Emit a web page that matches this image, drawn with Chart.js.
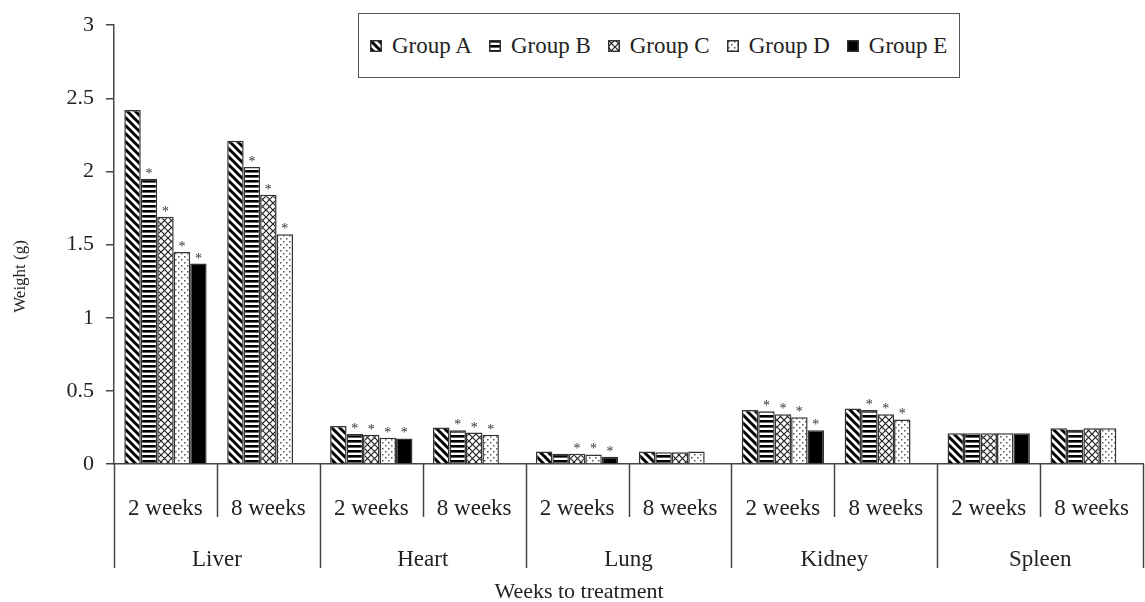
<!DOCTYPE html>
<html>
<head>
<meta charset="utf-8">
<script src="https://cdn.jsdelivr.net/npm/chart.js@4.4.1/dist/chart.umd.min.js"></script>
<style>
  html, body { margin: 0; padding: 0; background: #fff; overflow: hidden; }
  #wrap { position: relative; width: 1152px; height: 602px; }
  #legend {
    position: absolute; left: 358px; top: 13px; height: 63px;
    border: 1.5px solid #555; background: #fff;
    display: flex; align-items: center; padding: 0 12px 0 11px;
    font-family: "Liberation Serif", "Times New Roman", serif; font-size: 23px; color: #222;
  }
  #legend .item { display: flex; align-items: center; margin-right: 17px; }
  #legend .item:last-child { margin-right: 0; }
  #legend canvas { margin-right: 10px; }
</style>
</head>
<body>
<div id="wrap">
  <canvas id="organChart"></canvas>
  <div id="legend"></div>
</div>
<script>
// données
const labels = ["2 weeks", "8 weeks", "2 weeks", "8 weeks", "2 weeks", "8 weeks", "2 weeks", "8 weeks", "2 weeks", "8 weeks"];
const organs = ["Liver", "Heart", "Lung", "Kidney", "Spleen"];
const groupNames = ["Group A", "Group B", "Group C", "Group D", "Group E"];

const groupA = [2.42, 2.21, 0.26, 0.25, 0.085, 0.085, 0.37, 0.38, 0.21, 0.245];
const groupB = [1.95, 2.03, 0.205, 0.23, 0.07, 0.08, 0.36, 0.37, 0.21, 0.235];
const groupC = [1.69, 1.84, 0.20, 0.215, 0.07, 0.08, 0.34, 0.34, 0.21, 0.245];
const groupD = [1.45, 1.57, 0.18, 0.20, 0.065, 0.085, 0.32, 0.305, 0.21, 0.245];
const groupE = [1.37, null, 0.175, null, 0.05, null, 0.23, null, 0.21, null];

// astérisques (différence significative)
const sigA = [0, 0, 0, 0, 0, 0, 0, 0, 0, 0];
const sigB = [1, 1, 1, 1, 0, 0, 1, 1, 0, 0];
const sigC = [1, 1, 1, 1, 1, 0, 1, 1, 0, 0];
const sigD = [1, 1, 1, 1, 1, 0, 1, 1, 0, 0];
const sigE = [1, 0, 1, 0, 1, 0, 1, 0, 0, 0];

const yTicks = [0, 0.5, 1, 1.5, 2, 2.5, 3];

const FONT = '"Liberation Serif", "Times New Roman", serif';
const INK = '#222';
const LINE = '#444';

// motifs de remplissage
function makePattern(kind) {
  const c = document.createElement('canvas');
  const g = c.getContext('2d');
  if (kind === 'diag') {
    c.width = c.height = 8;
    g.fillStyle = '#fff'; g.fillRect(0, 0, 8, 8);
    g.strokeStyle = '#000'; g.lineWidth = 3;
    g.beginPath();
    g.moveTo(-2, -2); g.lineTo(10, 10);
    g.moveTo(-2, 6); g.lineTo(2, 10);
    g.moveTo(6, -2); g.lineTo(10, 2);
    g.stroke();
  } else if (kind === 'horiz') {
    c.width = 4; c.height = 5;
    g.fillStyle = '#fff'; g.fillRect(0, 0, 4, 5);
    g.fillStyle = '#000'; g.fillRect(0, 0, 4, 2.6);
  } else if (kind === 'cross') {
    c.width = c.height = 7;
    g.fillStyle = '#fff'; g.fillRect(0, 0, 7, 7);
    g.strokeStyle = '#222'; g.lineWidth = 1.2;
    g.beginPath();
    g.moveTo(-1, -1); g.lineTo(8, 8);
    g.moveTo(8, -1); g.lineTo(-1, 8);
    g.stroke();
  } else if (kind === 'dots') {
    c.width = c.height = 6;
    g.fillStyle = '#fff'; g.fillRect(0, 0, 6, 6);
    g.fillStyle = '#555';
    g.fillRect(1, 1, 1.5, 1.5);
    g.fillRect(4, 4, 1.5, 1.5);
  } else {
    return '#000';
  }
  return g.createPattern(c, 'repeat');
}

const fills = ['diag', 'horiz', 'cross', 'dots', 'solid'].map(makePattern);
const seriesValues = [groupA, groupB, groupC, groupD, groupE];
const seriesSig = [sigA, sigB, sigC, sigD, sigE];

// légende HTML
const legendBox = document.getElementById('legend');
groupNames.forEach((name, i) => {
  const item = document.createElement('div');
  item.className = 'item';
  const sw = document.createElement('canvas');
  sw.width = 12; sw.height = 12;
  const sg = sw.getContext('2d');
  sg.fillStyle = fills[i]; sg.fillRect(0, 0, 12, 12);
  sg.strokeStyle = '#333'; sg.lineWidth = 1.5; sg.strokeRect(0.75, 0.75, 10.5, 10.5);
  item.appendChild(sw);
  const t = document.createElement('span');
  t.textContent = name;
  item.appendChild(t);
  legendBox.appendChild(item);
});

// séparateurs de l'axe des catégories
const separatorPlugin = {
  id: 'separators',
  afterDraw(chart) {
    const x = chart.scales.x;
    const ctx = chart.ctx;
    ctx.save();
    ctx.strokeStyle = LINE;
    ctx.lineWidth = 1.5;
    for (let i = 0; i <= labels.length; i++) {
      const px = Math.round(x.getPixelForValue(i - 0.5)) + 0.5;
      const len = i % 2 === 0 ? 104 : 53;
      ctx.beginPath();
      ctx.moveTo(px, x.top);
      ctx.lineTo(px, x.top + len);
      ctx.stroke();
    }
    ctx.restore();
  }
};

// astérisques au-dessus des barres
const starPlugin = {
  id: 'stars',
  afterDatasetsDraw(chart) {
    const ctx = chart.ctx;
    ctx.save();
    ctx.fillStyle = '#333';
    ctx.font = '14px ' + FONT;
    ctx.textAlign = 'center';
    ctx.textBaseline = 'alphabetic';
    seriesSig.forEach((sig, d) => {
      const meta = chart.getDatasetMeta(d);
      sig.forEach((s, i) => {
        if (!s || seriesValues[d][i] == null) return;
        const bar = meta.data[i];
        ctx.fillText('*', bar.x, bar.y - 1);
      });
    });
    ctx.restore();
  }
};

const ctx = document.getElementById('organChart').getContext('2d');

const organChart = new Chart(ctx, {
  type: 'bar',
  data: {
    labels: labels,
    datasets: groupNames.map((name, i) => ({
      label: name,
      data: seriesValues[i],
      backgroundColor: fills[i],
      borderColor: '#333',
      borderWidth: 1.5,
      categoryPercentage: 0.8,
      barPercentage: 1.0
    }))
  },
  plugins: [separatorPlugin, starPlugin],
  options: {
    responsive: true,
    maintainAspectRatio: false,
    animation: false,
    layout: { padding: { top: 25, left: 0, right: 0, bottom: 0 } },
    plugins: {
      legend: { display: false },
      tooltip: { enabled: false }
    },
    scales: {
      y: {
        min: 0,
        max: 3,
        afterBuildTicks: s => { s.ticks = yTicks.map(v => ({ value: v })); },
        afterFit: s => { s.width = 114; },
        ticks: {
          padding: 12,
          color: INK,
          font: { family: FONT, size: 22 },
          callback: v => String(v)
        },
        grid: { drawOnChartArea: false, drawTicks: true, tickLength: 8, color: LINE, lineWidth: 1.5 },
        border: { display: true, color: LINE, width: 1.5 },
        title: {
          display: true,
          text: 'Weight (g)' + ' '.repeat(15),
          color: INK,
          font: { family: FONT, size: 17 },
          padding: { top: 10, bottom: 0 }
        }
      },
      x: {
        offset: true,
        afterFit: s => { s.height = 72; },
        ticks: {
          padding: 23,
          color: INK,
          maxRotation: 0,
          autoSkip: false,
          font: { family: FONT, size: 23 }
        },
        grid: { display: false },
        border: { display: true, color: LINE, width: 1.5 }
      },
      x2: {
        type: 'category',
        labels: organs,
        position: 'bottom',
        offset: true,
        afterFit: s => { s.height = 66; },
        ticks: {
          padding: 2,
          color: INK,
          maxRotation: 0,
          autoSkip: false,
          font: { family: FONT, size: 23 }
        },
        grid: { display: false },
        border: { display: false },
        title: {
          display: true,
          text: 'Weeks to treatment' + ' '.repeat(18),
          color: INK,
          font: { family: FONT, size: 22 },
          padding: { top: 0, bottom: -3 }
        }
      }
    }
  }
});
</script>
</body>
</html>
